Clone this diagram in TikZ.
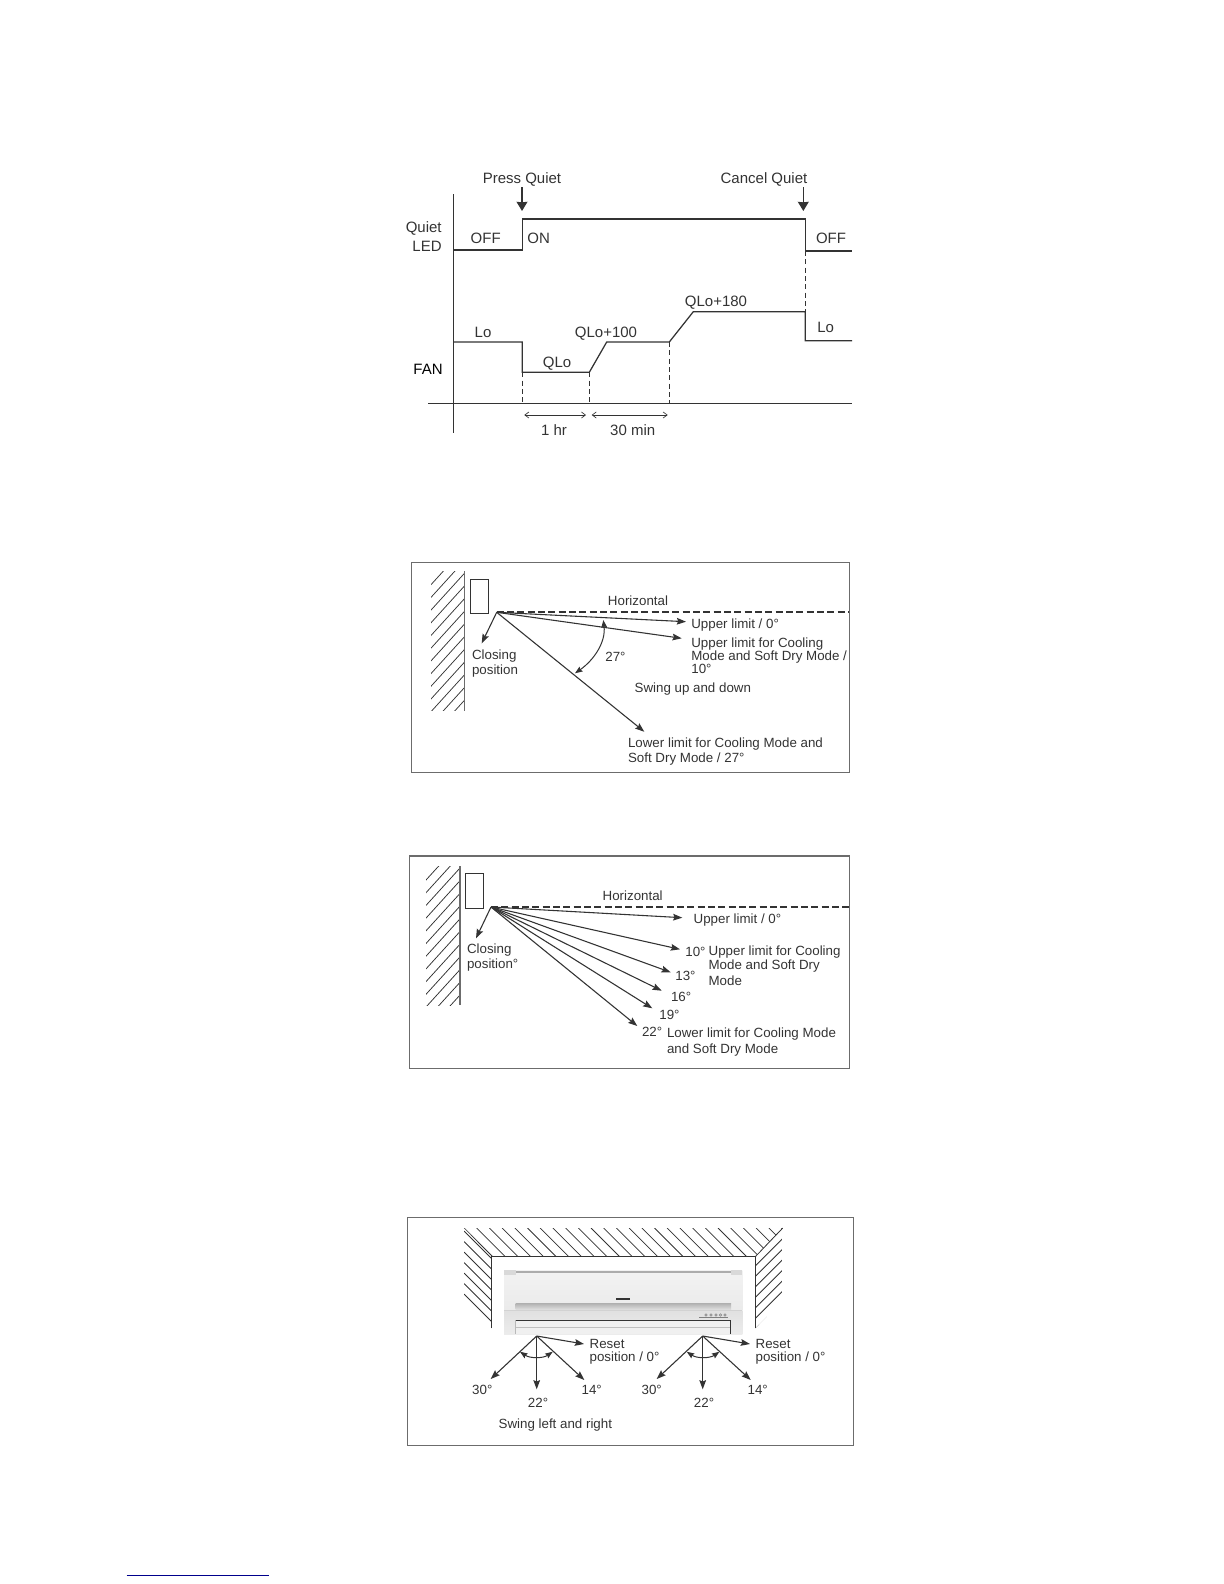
\documentclass[tikz,border=0pt]{standalone}
\usepackage{fontspec}
\setmainfont{Liberation Sans}
\usetikzlibrary{arrows.meta}
\definecolor{ink}{HTML}{333333}
\tikzset{
  lbl/.style={inner sep=0pt,text=ink,font=\fontsize{9}{10}\selectfont,text height=6.4pt,text depth=0pt},
  sm/.style={lbl,font=\fontsize{8}{9}\selectfont,text height=5.7pt},
  lw/.style={lbl,anchor=west},
  smw/.style={sm,anchor=west},
  le/.style={lbl,anchor=east},
  wave/.style={draw=ink,line width=0.75pt,line join=miter},
  thin line/.style={draw=ink,line width=0.6pt},
  wallline/.style={draw=gray!85!black,line width=0.8pt},
  dashline/.style={draw=ink,line width=0.7pt,dash pattern=on 3pt off 2pt},
  horiz/.style={draw=ink,line width=1pt,dash pattern=on 4.2pt off 2pt},
  frame/.style={draw=gray!85!black,line width=0.7pt},
  ptr/.style={draw=ink,line width=0.65pt,-{Stealth[length=5.5pt,width=4pt,inset=0.8pt]}},
  ptrb/.style={draw=ink,line width=0.6pt,{Stealth[length=4.5pt,width=3.4pt,inset=0.6pt]}-{Stealth[length=4.5pt,width=3.4pt,inset=0.6pt]}},
  press/.style={draw=ink,line width=0.8pt,-{Stealth[length=5.5pt,width=6.5pt,inset=0.3pt]}},
  span/.style={draw=ink,line width=0.4pt,{Straight Barb[length=2.4pt,width=3.6pt]}-{Straight Barb[length=2.4pt,width=3.6pt]}},
  hatch/.style={draw=ink,line width=0.45pt},
}
\begin{document}
\begin{tikzpicture}[x=0.6pt,y=-0.6pt]
\path[use as bounding box] (0,0) rectangle (1224,1584);

% ---------- timing chart
\draw[thin line,line width=0.75pt] (453.3,194) -- (453.3,433);
\draw[thin line,line width=0.75pt] (428,403.3) -- (852,403.3);
\draw[wave] (453.3,250) -- (522.3,250) -- (522.3,219) -- (805.3,219) -- (805.3,251) -- (852,251);
\draw[wave] (453.3,342) -- (522.3,342) -- (522.3,372.3) -- (589.3,372.3) -- (606.7,342) -- (669.3,342) -- (693.3,311.7) -- (805.3,311.7) -- (805.3,340.7) -- (852,340.7);
\draw[dashline] (522.3,372.3) -- (522.3,403.3);
\draw[dashline] (589.3,372.3) -- (589.3,403.3);
\draw[dashline] (669.3,342) -- (669.3,403.3);
\draw[dashline] (805.3,251) -- (805.3,311.7);
\draw[press] (522,187) -- (522,211);
\draw[press] (803.3,187) -- (803.3,211);
\draw[span] (524.3,415) -- (586,415);
\draw[span] (591.7,415) -- (667.7,415);
\node[lbl] (pq) at (522,178) {Press Quiet};
\node[lbl] (cq) at (764,178) {Cancel Quiet};
\node[le] (q1) at (442,227) {Quiet};
\node[le] (q2) at (442,246) {LED};
\node[lbl] (off1) at (485.7,238.5) {OFF};
\node[lw] (on1) at (527,238.5) {ON};
\node[lbl] (off2) at (831,238.5) {OFF};
\node[lbl] (q180) at (716,301) {QLo+180};
\node[lbl] (lo1) at (483,332) {Lo};
\node[lbl] (q100) at (606,332) {QLo+100};
\node[lbl] (qlo) at (557,362.5) {QLo};
\node[lbl] (lo2) at (825.7,327) {Lo};
\node[lbl,text=black] (fan) at (428,369) {FAN};
\node[lbl] (hr) at (554,430) {1 hr};
\node[lbl] (min) at (632.7,430) {30 min};

% ---------- swing up and down, first
\draw[frame] (411.7,562.3) rectangle (849.3,772.7);
\begin{scope}
\clip (431,571) rectangle (464.7,710.7);
\foreach \k in {-2,...,14}
  \draw[hatch] (464.7,571+\k*12.7+2) -- ++(-40,44);
\end{scope}
\draw[wallline] (464.7,571) -- (464.7,710.7);
\draw[thin line] (470,579.3) rectangle (488,613.3);
\coordinate (o2) at (496.7,612.3);
\draw[horiz] (o2) -- (849.3,612.3);
\draw[ptr] (o2) -- (686,621.7);
\draw[ptr] (o2) -- (681.7,638.3);
\draw[ptr] (o2) -- (644.3,731.7);
\draw[ptr] (o2) -- (481.7,643.3);
\draw[ptrb] (603.3,620) .. controls (606,642) and (594,660) .. (575,673.3);
\node[sm] (h2) at (638,601) {Horizontal};
\node[smw] (u2) at (691,624) {Upper limit / 0°};
\node[smw] (c2a) at (691,642.3) {Upper limit for Cooling};
\node[smw] (c2b) at (691,655.3) {Mode and Soft Dry Mode /};
\node[smw] (c2c) at (691,668.7) {10°};
\node[smw] (a27) at (605,657) {27°};
\node[smw] (s2) at (634.3,688) {Swing up and down};
\node[smw] (cl2a) at (471.7,654.3) {Closing};
\node[smw] (cl2b) at (471.7,669.3) {position};
\node[smw] (l2a) at (627.7,742.3) {Lower limit for Cooling Mode and};
\node[smw] (l2b) at (627.7,757.3) {Soft Dry Mode / 27°};

% ---------- swing up and down, second
\draw[frame] (409.7,856) rectangle (849.3,1068.3);
\begin{scope}
\clip (426,866) rectangle (460,1005);
\foreach \k in {-2,...,14}
  \draw[hatch] (460,866+\k*12.7+2) -- ++(-40,44);
\end{scope}
\draw[wallline] (460,866) -- (460,1005);
\draw[thin line] (465,873.3) rectangle (483,908.3);
\coordinate (o3) at (491,907);
\draw[horiz] (o3) -- (849.3,907);
\draw[ptr] (o3) -- (682.3,917.7);
\draw[ptr] (o3) -- (680,949.3);
\draw[ptr] (o3) -- (670.7,972.3);
\draw[ptr] (o3) -- (661.7,990.7);
\draw[ptr] (o3) -- (652.3,1008.3);
\draw[ptr] (o3) -- (637.3,1026);
\draw[ptr] (o3) -- (476,938.3);
\node[sm] (h3) at (632.7,896) {Horizontal};
\node[smw] (u3) at (693.3,919) {Upper limit / 0°};
\node[smw] (d10) at (685,951.7) {10°};
\node[smw] (c3a) at (708.3,950.3) {Upper limit for Cooling};
\node[smw] (c3b) at (708.3,965) {Mode and Soft Dry};
\node[smw] (c3c) at (708.3,980.3) {Mode};
\node[smw] (d13) at (675,976) {13°};
\node[smw] (d16) at (670.7,997) {16°};
\node[smw] (d19) at (659,1015) {19°};
\node[smw] (d22) at (641.7,1031.7) {22°};
\node[smw] (l3a) at (666.7,1032.3) {Lower limit for Cooling Mode};
\node[smw] (l3b) at (666.7,1049) {and Soft Dry Mode};
\node[smw] (cl3a) at (466.7,949) {Closing};
\node[smw] (cl3b) at (466.7,963.7) {position°};

% ---------- swing left and right
\draw[frame] (407.3,1217.3) rectangle (853.3,1445.3);
\begin{scope}
\clip (464,1228) -- (782.7,1228) -- (755.3,1256.7) -- (491.7,1256.7) -- (464,1228) -- cycle;
\foreach \k in {-3,...,26}
  \draw[hatch] (464+\k*12.7,1228) -- ++(40,40);
\end{scope}
\begin{scope}
\clip (464,1228) -- (491.7,1256.7) -- (491.7,1328.3) -- (464,1300) -- cycle;
\foreach \k in {-1,...,8}
  \draw[hatch] (464,1231+\k*10.5) -- ++(40,40);
\end{scope}
\begin{scope}
\clip (782.7,1228) -- (782.7,1300) -- (755.3,1328.3) -- (755.3,1256.7) -- cycle;
\foreach \k in {-1,...,9}
  \draw[hatch] (782.7,1228+\k*10.5) -- ++(-40,40);
\end{scope}
\draw[hatch] (755.3,1256.7) -- (782.7,1228);
\draw[thin line,line width=0.75pt] (491.7,1328.3) -- (491.7,1256.7) -- (755.3,1256.7) -- (755.3,1328.3);
% indoor unit
\fill[top color=gray!10,bottom color=gray!16] (504,1270) rectangle (742.3,1310);
\fill[top color=gray!24,bottom color=gray!15] (504,1310) rectangle (742.3,1334);
\fill[gray!30] (504,1270) rectangle (515.7,1275);
\fill[gray!30] (731,1270) rectangle (742.3,1275);
\fill[gray!65] (515.7,1270.5) rectangle (731,1273);
\fill[top color=gray!60,bottom color=gray!25] (515.7,1303.5) rectangle (731,1309.5);
\draw[gray!35,line width=0.5pt] (504,1310) -- (742.3,1310);
\fill[gray!12] (515.7,1320.3) rectangle (730.7,1334);
\draw[gray!55,line width=0.4pt] (515.7,1320.3) -- (515.7,1334);
\draw[gray!50,line width=0.4pt] (515.7,1327.3) -- (730.7,1327.3);
\draw[ink,line width=0.7pt] (515.7,1320.3) -- (730.7,1320.3) -- (730.7,1334);
\draw[ink,line width=0.8pt] (616,1299) -- (630,1299);
\draw[gray,line width=0.3pt] (699,1317.5) -- (728,1317.5);
\foreach \x in {706,711,716,720.5,725}
  \draw[gray,line width=0.3pt] (\x,1315) circle (1.2);
% left arrows
\coordinate (o4) at (536.7,1336);
\draw[ptr] (o4) -- (584,1344);
\draw[ptr] (o4) -- (490.7,1379);
\draw[ptr] (o4) -- (536.7,1389.3);
\draw[ptr] (o4) -- (584.3,1380);
\draw[ptrb] (520,1351.7) .. controls (530,1358.5) and (543,1358.5) .. (552.7,1351.7);
% right arrows
\coordinate (o5) at (702.7,1336);
\draw[ptr] (o5) -- (750,1344);
\draw[ptr] (o5) -- (656.7,1379);
\draw[ptr] (o5) -- (702.7,1389.3);
\draw[ptr] (o5) -- (750.7,1380);
\draw[ptrb] (686.7,1351.7) .. controls (696.7,1358.5) and (709.7,1358.5) .. (719.4,1351.7);
\node[smw] (r4a) at (589.3,1343.3) {Reset};
\node[smw] (r4b) at (589.3,1356.7) {position / 0°};
\node[smw] (r5a) at (755.3,1343.3) {Reset};
\node[smw] (r5b) at (755.3,1356.7) {position / 0°};
\node[sm] (a30l) at (482.3,1390) {30°};
\node[sm] (a22l) at (538,1402.3) {22°};
\node[sm] (a14l) at (591.7,1390) {14°};
\node[sm] (a30r) at (651.7,1390) {30°};
\node[sm] (a22r) at (704,1402.3) {22°};
\node[sm] (a14r) at (757.7,1390) {14°};
\node[smw] (s4) at (498.3,1423.3) {Swing left and right};

% ---------- page rule
\draw[blue!55!black,line width=0.6pt] (126.7,1575.3) -- (269,1575.3);
\end{tikzpicture}
\end{document}
